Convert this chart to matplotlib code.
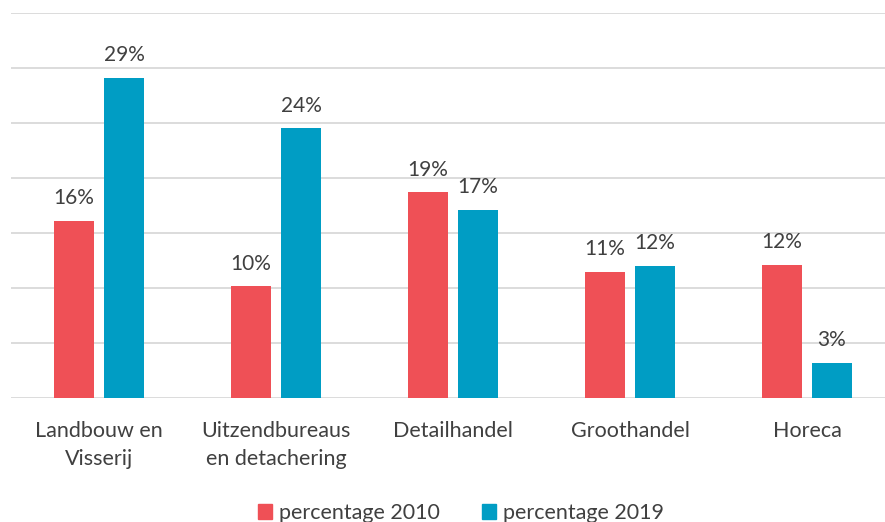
import matplotlib
matplotlib.use("Agg")
import matplotlib.pyplot as plt
import matplotlib.patches as mpatches
import numpy as np

categories = ["Landbouw en\nVisserij", "Uitzendbureaus\nen detachering", "Detailhandel", "Groothandel", "Horeca"]
pct_2010 = [16.1, 10.15, 18.7, 11.45, 12.1]
pct_2019 = [29.1, 24.5, 17.1, 12.0, 3.2]
labels_2010 = ["16%", "10%", "19%", "11%", "12%"]
labels_2019 = ["29%", "24%", "17%", "12%", "3%"]

RED = "#EF5056"
BLUE = "#009DC4"
TEXT = "#404040"

plt.rcParams['font.family'] = ['Lato', 'DejaVu Sans']

W, H = 885, 522
fig = plt.figure(figsize=(W / 100, H / 100), dpi=100)
ax = fig.add_axes([10.5 / W, 1 - 397.7 / H, 885 / W, (397.7 - 12.7) / H])

x = np.arange(len(categories))
bw = 0.226
off = 0.141
b1 = ax.bar(x - off, pct_2010, bw, color=RED, zorder=3)
b2 = ax.bar(x + off, pct_2019, bw, color=BLUE, zorder=3)

for bars, labs in ((b1, labels_2010), (b2, labels_2019)):
    for bar, lab in zip(bars, labs):
        ax.annotate(lab, (bar.get_x() + bar.get_width() / 2, bar.get_height()),
                    xytext=(0, 9), textcoords="offset points",
                    ha="center", va="bottom", fontsize=15, color=TEXT)

ax.set_xlim(-0.5, 4.5)
ax.set_ylim(0, 35)
ax.set_yticks(np.arange(0, 36, 5))
ax.yaxis.grid(True, color="#D9D9D9", linewidth=1.3, zorder=0)
ax.set_axisbelow(True)
for s in ax.spines.values():
    s.set_visible(False)
ax.tick_params(axis="y", left=False, labelleft=False)
ax.tick_params(axis="x", length=0, pad=17)
ax.set_xticks(x)
ax.set_xticklabels(categories, fontsize=15.5, color=TEXT, linespacing=1.45)

handles = [mpatches.Patch(color=RED, label="percentage 2010"),
           mpatches.Patch(color=BLUE, label="percentage 2019")]
fig.legend(handles=handles, loc="center", bbox_to_anchor=(461 / W, 1 - 513 / H),
           ncol=2, frameon=False, fontsize=15.5, handlelength=0.65, handleheight=0.65,
           handletextpad=0.3, columnspacing=2.0, labelcolor=TEXT)

fig.savefig("out.png", dpi=100)
